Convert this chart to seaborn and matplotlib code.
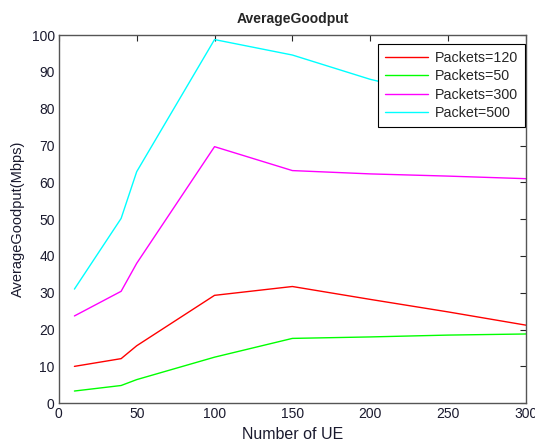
import matplotlib
matplotlib.use('Agg')
import matplotlib.pyplot as plt
import pandas as pd
import seaborn as sns

# Data
ue = [10, 40, 50, 100, 150, 200, 250, 300]
goodput_120 = [10.0, 12.1, 15.6, 29.3, 31.7, 28.2, 24.8, 21.2]
goodput_50 = [3.3, 4.8, 6.4, 12.5, 17.6, 18.0, 18.5, 18.8]
goodput_300 = [23.7, 30.4, 38.0, 69.7, 63.2, 62.3, 61.7, 61.0]
goodput_500 = [31.0, 50.2, 62.9, 98.8, 94.6, 88.0, 83.0, 78.0]
labels = ['Packets=120', 'Packets=50', 'Packets=300', 'Packet=500']
colors = ['#ff0000', '#00ff00', '#ff00ff', '#00ffff']

df = pd.concat([
    pd.DataFrame({'UE': ue, 'Goodput': vals, 'Series': lab})
    for vals, lab in zip([goodput_120, goodput_50, goodput_300, goodput_500], labels)
])

sns.set_style('white')
plt.rcParams['font.family'] = ['Liberation Sans', 'DejaVu Sans']

fig = plt.figure(figsize=(5.35, 4.45), dpi=100)
ax = fig.add_axes([0.110, 0.094, 0.873, 0.827])
sns.lineplot(data=df, x='UE', y='Goodput', hue='Series', hue_order=labels,
             palette=colors, linewidth=1.0, ax=ax)

ax.set_xlim(0, 300)
ax.set_ylim(0, 100)
ax.set_xticks(range(0, 301, 50))
ax.set_yticks(range(0, 101, 10))
ax.tick_params(direction='in', top=True, right=True, length=4, width=0.8,
               labelsize=10, colors='#262626', labelcolor='#1a1a2e', pad=3)
for s in ax.spines.values():
    s.set_color('#555555')
    s.set_linewidth(1.0)

ax.set_xlabel('Number of UE', fontsize=11.5, color='#1a1a2e', labelpad=4)
ax.set_ylabel('AverageGoodput(Mbps)', fontsize=10.5, color='#1a1a2e', labelpad=5)
ax.set_title('AverageGoodput', fontsize=10, fontweight='bold', pad=9)

leg = ax.legend(loc='upper right', bbox_to_anchor=(0.999, 0.976), fontsize=10.3,
                frameon=True, fancybox=False, handlelength=3.0, borderpad=0.5,
                labelspacing=0.3, handletextpad=0.5, borderaxespad=0)
leg.get_frame().set_edgecolor('black')
leg.get_frame().set_linewidth(0.8)
leg.get_frame().set_alpha(1)

fig.savefig('out.png', dpi=100)
